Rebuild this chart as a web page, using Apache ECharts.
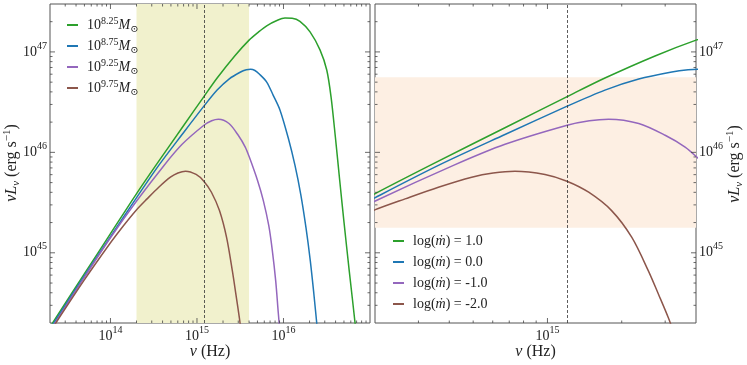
<!DOCTYPE html>
<html>
<head>
<meta charset="utf-8">
<script src="https://cdn.jsdelivr.net/npm/echarts@6/dist/echarts.min.js"></script>
<style>
html, body { margin: 0; padding: 0; background: #fff; }
#main { width: 747px; height: 365px; }
</style>
</head>
<body>
<div id="main"></div>
<script>
// spectra as [log10 nu (Hz), log10 nuL_nu (erg/s)]
var specA = [[13.30,44.26],[13.69,44.78],[14.00,45.19],[14.30,45.587],[14.54,45.89],[14.84,46.26],[15.08,46.555],[15.233,46.74],[15.436,46.96],[15.605,47.12],[15.70,47.19],[15.806,47.26],[15.93,47.315],[16.017,47.337],[16.10,47.335],[16.19,47.305],[16.307,47.20],[16.422,47.02],[16.50,46.82],[16.55,46.55],[16.60,46.15],[16.65,45.72],[16.70,45.30],[16.76,44.82],[16.83,44.28],[16.86,44.0]];
var specB = [[13.30,44.24],[13.69,44.76],[14.00,45.16],[14.30,45.547],[14.558,45.87],[14.83,46.18],[15.08,46.46],[15.233,46.62],[15.37,46.73],[15.504,46.80],[15.57,46.822],[15.62,46.828],[15.67,46.815],[15.72,46.78],[15.806,46.70],[15.88,46.57],[15.96,46.42],[16.056,46.14],[16.133,45.87],[16.20,45.58],[16.26,45.25],[16.31,44.92],[16.35,44.60],[16.39,44.25],[16.42,44.0]];
var specC = [[13.30,44.22],[13.69,44.745],[14.00,45.15],[14.30,45.513],[14.619,45.87],[14.828,46.08],[15.08,46.27],[15.17,46.315],[15.248,46.33],[15.37,46.287],[15.477,46.17],[15.558,46.053],[15.605,45.953],[15.70,45.72],[15.767,45.52],[15.83,45.27],[15.87,45.03],[15.91,44.72],[15.94,44.40],[15.97,44.1]];
var specD = [[13.30,44.21],[13.69,44.72],[14.00,45.10],[14.15,45.27],[14.30,45.427],[14.423,45.537],[14.558,45.653],[14.693,45.753],[14.78,45.795],[14.868,45.813],[14.99,45.78],[15.079,45.713],[15.167,45.603],[15.26,45.42],[15.342,45.153],[15.409,44.82],[15.45,44.587],[15.49,44.353],[15.52,44.15]];

var massLabels = ['8.25', '8.75', '9.25', '9.75'];
var mdotLabels = ['1.0', '0.0', '-1.0', '-2.0'];
var colors = ['#2ca02c', '#1f77b4', '#9467bd', '#8c564b'];

var nuDash = 1.2e15;
var bandNu = [2e14, 4e15];
var bandL = [1.78e45, 5.6e46];
var xRangeLeft = [2e13, 1e17];
var xRangeRight = [2e14, 4e15];
var yRange = [2e44, 3e47];

var FONT = '"Liberation Serif", "DejaVu Serif", serif';
var INK = '#222';

function toLin(arr) {
  return arr.map(function (p) { return [Math.pow(10, p[0]), Math.pow(10, p[1])]; });
}
function isDecade(v) {
  var l = Math.log10(v);
  return Math.abs(l - Math.round(l)) < 1e-9;
}
function logTicks(lo, hi) {
  var out = [];
  for (var d = Math.floor(Math.log10(lo)); d <= Math.ceil(Math.log10(hi)); d++) {
    for (var k = 1; k <= 9; k++) {
      var v = k * Math.pow(10, d);
      if (v > lo * 1.0001 && v < hi * 0.9999) out.push(v);
    }
  }
  return out;
}

var tickRich = {
  b: { fontFamily: FONT, fontSize: 14, lineHeight: 22, color: INK },
  s: { fontFamily: FONT, fontSize: 10, lineHeight: 12, verticalAlign: 'top', color: INK }
};
function decadeLabel(v) {
  if (!isDecade(v)) return '';
  return '{b|10}{s|' + Math.round(Math.log10(v)) + '}';
}

var specs = [specA, specB, specC, specD];
var chart = echarts.init(document.getElementById('main'));

function curve(name, spec, color, idx) {
  return {
    type: 'line', name: name, data: toLin(spec),
    xAxisIndex: idx, yAxisIndex: idx,
    symbol: 'none', showSymbol: false, smooth: 0.3,
    lineStyle: { width: 1.5, color: color, join: 'round' },
    itemStyle: { color: color },
    z: 3, animation: false
  };
}

function tickSeries(idx, dir, xr) {
  var vals = dir === 'x' ? logTicks(xr[0], xr[1]) : logTicks(yRange[0], yRange[1]);
  var data = vals.map(function (v) {
    var m = isDecade(v) ? 1 : 0;
    return dir === 'x' ? [v, yRange[0], m] : [xr[0], v, m];
  });
  return {
    type: 'custom', xAxisIndex: idx, yAxisIndex: idx, silent: true, z: 6,
    encode: { x: 0, y: 1 }, data: data, animation: false,
    renderItem: function (params, api) {
      var v = dir === 'x' ? api.value(0) : api.value(1);
      var len = api.value(2) ? 5 : 2.5;
      var st = { stroke: '#444', lineWidth: 0.8 };
      var a, b;
      if (dir === 'x') {
        a = api.coord([v, yRange[0]]); b = api.coord([v, yRange[1]]);
        return { type: 'group', children: [
          { type: 'line', shape: { x1: a[0], y1: a[1], x2: a[0], y2: a[1] - len }, style: st },
          { type: 'line', shape: { x1: b[0], y1: b[1], x2: b[0], y2: b[1] + len }, style: st }
        ] };
      }
      a = api.coord([xr[0], v]); b = api.coord([xr[1], v]);
      return { type: 'group', children: [
        { type: 'line', shape: { x1: a[0], y1: a[1], x2: a[0] + len, y2: a[1] }, style: st },
        { type: 'line', shape: { x1: b[0], y1: b[1], x2: b[0] - len, y2: b[1] }, style: st }
      ] };
    }
  };
}

var dashLine = {
  symbol: ['none', 'none'], silent: true, label: { show: false },
  lineStyle: { type: [3, 2], color: '#333', width: 0.8 },
  data: [{ xAxis: nuDash }], animation: false
};

var series = [];
series.push({
  type: 'line', name: 'bandL', xAxisIndex: 0, yAxisIndex: 0, z: 1,
  data: [], symbol: 'none',
  markArea: { silent: true, itemStyle: { color: '#f1f1cd' },
    data: [[{ xAxis: bandNu[0] }, { xAxis: bandNu[1] }]] },
  markLine: dashLine
});
specs.forEach(function (s, i) { series.push(curve('M' + massLabels[i], s, colors[i], 0)); });
series.push({
  type: 'line', name: 'bandR', xAxisIndex: 1, yAxisIndex: 1, z: 1,
  data: [], symbol: 'none',
  markArea: { silent: true, itemStyle: { color: '#fdefe3' },
    data: [[{ yAxis: bandL[0] }, { yAxis: bandL[1] }]] },
  markLine: dashLine
});
specs.forEach(function (s, i) { series.push(curve('m' + mdotLabels[i], s, colors[i], 1)); });
series.push(tickSeries(0, 'x', xRangeLeft));
series.push(tickSeries(0, 'y', xRangeLeft));
series.push(tickSeries(1, 'x', xRangeRight));
series.push(tickSeries(1, 'y', xRangeRight));

function xAxisOf(idx, r) {
  return {
    type: 'log', logBase: 10, gridIndex: idx, min: r[0], max: r[1],
    axisLine: { show: false }, axisTick: { show: false }, splitLine: { show: false },
    axisLabel: { formatter: decadeLabel, rich: tickRich, margin: 2, showMinLabel: false, showMaxLabel: false }
  };
}
function yAxisOf(idx, pos) {
  return {
    type: 'log', logBase: 10, gridIndex: idx, min: yRange[0], max: yRange[1], position: pos,
    axisLine: { show: false }, axisTick: { show: false }, splitLine: { show: false },
    axisLabel: { formatter: decadeLabel, rich: tickRich, margin: 3, showMinLabel: false, showMaxLabel: false }
  };
}

var legRich = {
  b: { fontFamily: FONT, fontSize: 14, lineHeight: 18, color: INK },
  s: { fontFamily: FONT, fontSize: 10, lineHeight: 10, verticalAlign: 'top', color: INK },
  i: { fontFamily: FONT, fontSize: 14, lineHeight: 18, fontStyle: 'italic', color: INK },
  sub: { fontFamily: FONT, fontSize: 10, lineHeight: 10, verticalAlign: 'bottom', color: INK }
};

var titleRich = {
  n: { fontFamily: FONT, fontSize: 16, lineHeight: 20, fill: INK },
  i: { fontFamily: FONT, fontSize: 16, lineHeight: 20, fontStyle: 'italic', fill: INK },
  sub: { fontFamily: FONT, fontSize: 11, lineHeight: 10, verticalAlign: 'bottom', fontStyle: 'italic', fill: INK },
  sup: { fontFamily: FONT, fontSize: 11, lineHeight: 10, verticalAlign: 'top', fill: INK }
};
var yTitle = '{i|νL}{sub|ν}{n| (erg s}{sup|−1}{n|)}';
var xTitle = '{i|ν}{n| (Hz)}';

function titleText(x, y, text, rot) {
  return {
    type: 'text', x: x, y: y, rotation: rot || 0, silent: true,
    style: { text: text, rich: titleRich, align: 'center', verticalAlign: 'middle', fill: INK }
  };
}

chart.setOption({
  backgroundColor: '#fff',
  animation: false,
  grid: [
    { left: 50, top: 4, width: 320, height: 319, show: true, borderColor: '#555', borderWidth: 1, backgroundColor: 'transparent' },
    { left: 375, top: 4, width: 321, height: 319, show: true, borderColor: '#555', borderWidth: 1, backgroundColor: 'transparent' }
  ],
  xAxis: [xAxisOf(0, xRangeLeft), xAxisOf(1, xRangeRight)],
  yAxis: [yAxisOf(0, 'left'), yAxisOf(1, 'right')],
  legend: [
    {
      orient: 'vertical', left: 62, top: 11, itemWidth: 11, itemHeight: 2, itemGap: 3,
      icon: 'rect', data: massLabels.map(function (m) { return 'M' + m; }),
      formatter: function (n) { return '{b|10}{s|' + n.slice(1) + '}{i|M}{sub|⊙}'; },
      textStyle: { rich: legRich, padding: [0, 0, 0, 4] }, selectedMode: false
    },
    {
      orient: 'vertical', left: 388, top: 229, itemWidth: 11, itemHeight: 2, itemGap: 7,
      icon: 'rect', data: mdotLabels.map(function (m) { return 'm' + m; }),
      formatter: function (n) { return '{b|log(}{i|ṁ}{b|) = ' + n.slice(1) + '}'; },
      textStyle: { rich: legRich, padding: [0, 0, 0, 4] }, selectedMode: false
    }
  ],
  graphic: [
    titleText(210, 352, xTitle),
    titleText(535.5, 352, xTitle),
    titleText(12, 163, yTitle, Math.PI / 2),
    titleText(735, 164, yTitle, Math.PI / 2)
  ],
  series: series
});
</script>
</body>
</html>
